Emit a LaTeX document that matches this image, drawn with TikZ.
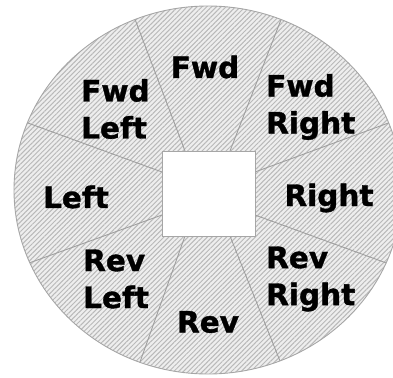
\documentclass[tikz,border=0pt]{standalone}
\usepackage{fontspec}
\setmainfont[BoldFeatures={FakeBold=1.2}]{DejaVu Sans}
\usetikzlibrary{patterns.meta}
\tikzset{
  spoke/.style={draw=gray!75, line width=0.9pt},
  lbl/.style={font=\fontsize{29.5}{37}\selectfont\bfseries, text=black, align=left, inner sep=0pt},
  disc/.style={x radius=194, y radius=184},
}
\begin{document}
\begin{tikzpicture}[x=1pt,y=-1pt]
\useasboundingbox (0,0) rectangle (393,377);
\begin{scope}
\clip (0,0) rectangle (393,377);
\fill[gray!13] (208,190) ellipse [disc];
\fill[pattern={Lines[angle=45, distance=3.4pt, line width=1pt]}, pattern color=gray!55] (208,190) ellipse [disc];
\begin{scope}
\clip (208,190) ellipse [disc];
% spokes (outer ends beyond the rim, clipped)
\coordinate (s1a) at (185,151); \coordinate (s1b) at (133,14);
\coordinate (s2a) at (230,151); \coordinate (s2b) at (284,12);
\coordinate (s3a) at (255,172); \coordinate (s3b) at (402,118);
\coordinate (s4a) at (255,215); \coordinate (s4b) at (400,268);
\coordinate (s5a) at (230,236); \coordinate (s5b) at (284,371);
\coordinate (s6a) at (185,236); \coordinate (s6b) at (135,376);
\coordinate (s7a) at (162,215); \coordinate (s7b) at (18,267);
\coordinate (s8a) at (162,172); \coordinate (s8b) at (17,119);
\foreach \i in {1,...,8} \draw[spoke] (s\i a) -- (s\i b);
\end{scope}
\draw[gray!70, line width=0.9pt] (208,190) ellipse [disc];
\end{scope}
\node[draw=gray!70, line width=0.9pt, fill=white, minimum width=93pt, minimum height=85pt, inner sep=0pt] (hub) at (208.5,193.5) {};
% labels
\node[lbl] (fwd) at (205,67) {Fwd};
\node[lbl, anchor=west] (fl) at (81,109) {Fwd\\Left};
\node[lbl, anchor=west] (fr) at (266,107) {Fwd\\Right};
\node[lbl] (l) at (76,197) {Left};
\node[lbl] (r) at (329,198) {Right};
\node[lbl, anchor=west] (rl) at (83,279) {Rev\\Left};
\node[lbl, anchor=west] (rr) at (266,279) {Rev\\Right};
\node[lbl] (rev) at (208,322) {Rev};
\end{tikzpicture}
\end{document}
